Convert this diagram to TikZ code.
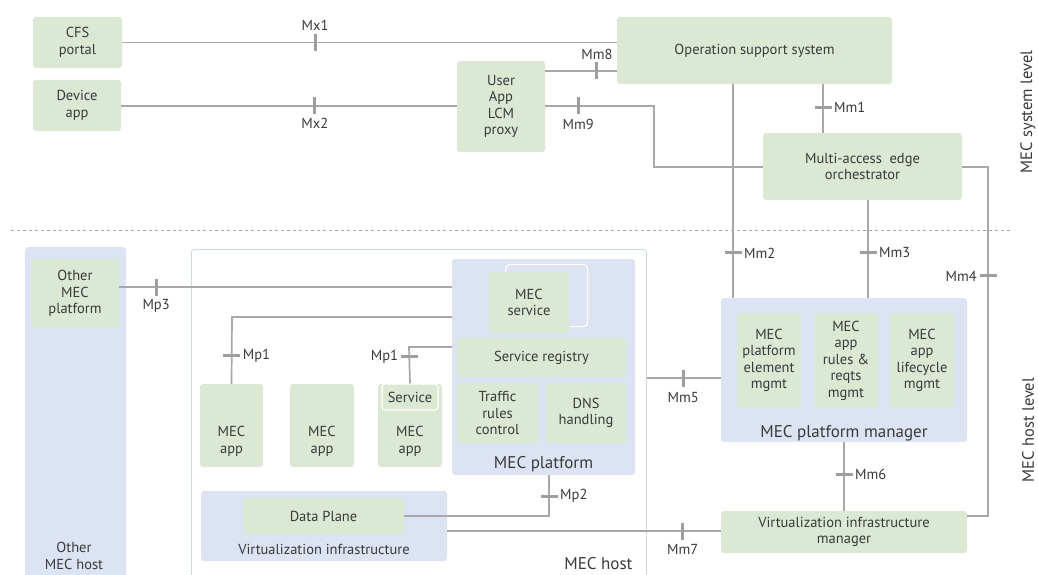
\documentclass[tikz,border=0pt]{standalone}
\usepackage{fontspec}
\setmainfont{PT Sans}
\definecolor{gfill}{HTML}{DAE8D4}
\definecolor{bfill}{HTML}{DCE3F2}
\definecolor{hostline}{HTML}{CAD7EC}
\definecolor{wire}{HTML}{A8A8A8}
\definecolor{tickc}{HTML}{9E9E9E}
\definecolor{ink}{HTML}{3A3A3A}
\begin{document}
\begin{tikzpicture}[x=1pt,y=-1pt,
  every node/.style={text=ink, font=\fontsize{14.5}{16.5}\selectfont},
  gbox/.style={fill=gfill, rounded corners=3pt, inner sep=0pt, align=center},
  bbox/.style={fill=bfill, rounded corners=3pt, inner sep=0pt},
  wireline/.style={draw=wire, line width=1.7pt},
  tickv/.style={fill=tickc, inner sep=0pt, minimum width=3pt, minimum height=17pt},
  tickh/.style={fill=tickc, inner sep=0pt, minimum width=17pt, minimum height=3pt},
  lbl/.style={inner sep=1pt, font=\fontsize{14.5}{16.5}\selectfont},
  big/.style={font=\fontsize{17}{20}\selectfont},
  sz/.style 2 args={minimum width=#1pt, minimum height=#2pt}]
\useasboundingbox (0,0) rectangle (1038,575);

% ---------- MEC system level ----------
\node[gbox, sz={89}{51}] (cfs) at (77.5,42.5) {CFS\\portal};
\node[gbox, sz={88}{51}] (dev) at (77,105.5) {Device\\app};
\node[gbox, sz={88}{91}] (proxy) at (501,106.5) {User\\App\\LCM\\proxy};
\node[gbox, sz={275}{67}] (oss) at (754.5,50.5) {Operation support system};
\node[gbox, sz={199}{67}] (meo) at (862.5,166.5) {Multi-access\ \ edge\\orchestrator};

\node[rotate=90, font=\fontsize{16.5}{18}\selectfont] (syslvl) at (1028,112) {MEC system level};
\node[rotate=90, font=\fontsize{16.5}{18}\selectfont] (hostlvl) at (1028,430) {MEC host level};

\draw[draw=wire, line width=1pt, dash pattern=on 3pt off 3pt] (11,230) coordinate (dl) -- (1013,230) coordinate (dr);

% ---------- MEC host level ----------
\node[bbox, sz={101}{340}, anchor=north west] (omh) at (25,247) {};
\node[anchor=center, align=center] (omhl) at (74,556) {Other\\MEC host};
\node[gbox, sz={88}{69}] (omp) at (75,293.5) {Other\\MEC\\platform};

\node[draw=hostline, line width=0.8pt, fill=white, rounded corners=3pt,
      sz={455}{340}, anchor=north west] (host) at (191,249) {};
\node[big, anchor=base east] (hostl) at (636,569) {MEC host};

\node[bbox, sz={183}{216}] (plat) at (543.5,367) {};
\node[big, anchor=base] (platl) at (543.5,468) {MEC platform};
\node[draw=white, line width=1.2pt, rounded corners=4pt, sz={82}{62}, anchor=north west] (svcbg) at (505,264) {};
\node[gbox, sz={80}{61}] (svc) at (529,302.5) {MEC\\service};
\node[gbox, sz={169}{39}] (reg) at (541.5,357.5) {Service registry};
\node[gbox, sz={81}{60}] (trc) at (497.5,413) {Traffic\\rules\\control};
\node[gbox, sz={80}{60}] (dns) at (586,413) {DNS\\handling};

\node[gbox, sz={63}{83}] (app1) at (231.5,425.5) {};
\node[gbox, sz={64}{83}] (app2) at (322,425.5) {};
\node[gbox, sz={64}{83}] (app3) at (410,425.5) {};
\foreach \a in {app1,app2,app3}
  \node[align=center] at ([yshift=-16pt]\a.center) {MEC\\app};
\node[gbox, draw=white, line width=1.2pt, sz={56}{26}] (serv) at (410,397) {Service};

\node[bbox, sz={246}{70}] (vi) at (324,526) {};
\node[anchor=base] (vil) at (324,554) {Virtualization infrastructure};
\node[gbox, sz={161}{36}] (dp) at (323.5,516) {Data Plane};

\node[bbox, sz={246}{144}] (pm) at (844,370) {};
\node[big, anchor=base] (pml) at (844,437) {MEC platform manager};
\node[gbox, sz={64}{95}] (pe) at (769,360.5) {MEC\\platform\\element\\mgmt};
\node[gbox, sz={64}{95}] (ar) at (846,360.5) {MEC\\app\\rules \&\\reqts\\mgmt};
\node[gbox, sz={64}{95}] (al) at (922,360.5) {MEC\\app\\lifecycle\\mgmt};
\node[gbox, sz={246}{42}] (vim) at (844,532) {Virtualization infrastructure\\manager};

% ---------- bend points ----------
\coordinate (mm9a) at (654,106);
\coordinate (mm9b) at (654,167);
\coordinate (mm4a) at (988,167);
\coordinate (mm4b) at (988,516);
\coordinate (mp1a) at (232,317);
\coordinate (mp1b) at (409,347);
\coordinate (mp2a) at (549,516);

% ---------- interfaces: wires with tick marks ----------
\draw[wireline] (cfs.east) -- node[tickv,pos=0.39,label={[lbl,label distance=1pt]above:Mx1}]{} (cfs.east -| oss.west);
\draw[wireline] (dev.east |- 0,106) -- node[tickv,pos=0.577,label={[lbl,label distance=1pt]below:Mx2}]{} (proxy.west |- 0,106);
\draw[wireline] (proxy.east |- 0,71) -- node[tickv,pos=0.722,label={[lbl,label distance=0pt]above:Mm8}]{} (oss.west |- 0,71);
\draw[wireline] (proxy.east |- mm9a) -- node[tickv,pos=0.303,label={[lbl,label distance=2pt]below:Mm9}]{} (mm9a) -- (mm9b) -- (meo.west |- mm9b);
\draw[wireline] (oss.south -| 823,0) -- node[tickh,pos=0.47,label={[lbl,label distance=0pt]right:Mm1}]{} (meo.north -| 823,0);
\draw[wireline] (oss.south -| 733,0) -- node[tickh,pos=0.79,label={[lbl,label distance=0pt]right:Mm2}]{} (pm.north -| 733,0);
\draw[wireline] (meo.south -| 868,0) -- node[tickh,pos=0.54,label={[lbl,label distance=0pt]right:Mm3}]{} (pm.north -| 868,0);
\draw[wireline] (meo.east |- mm4a) -- (mm4a) -- node[tickh,pos=0.312,label={[lbl,label distance=0pt]left:Mm4}]{} (mm4b) -- (vim.east |- mm4b);
\draw[wireline] (host.east |- 0,378) -- node[tickv,pos=0.493,label={[lbl,label distance=3pt]below:Mm5}]{} (pm.west |- 0,378);
\draw[wireline] (pm.south) -- node[tickh,pos=0.464,label={[lbl,label distance=0pt]right:Mm6}]{} (vim.north);
\draw[wireline] (vi.east |- 0,531) -- node[tickv,pos=0.861,label={[lbl,label distance=2pt]below:Mm7}]{} (vim.west |- 0,531);
\draw[wireline] (omp.east |- 0,287) -- node[tickv,pos=0.111,label={[lbl,label distance=1pt]below:Mp3}]{} (plat.west |- 0,287);
\draw[wireline] (app1.north) -- node[tickh,pos=0.418,label={[lbl,label distance=0pt]right:Mp1}]{} (mp1a) -- (plat.west |- mp1a);
\draw[wireline] (serv.north) -- node[tickh,pos=0.73,label={[lbl,label distance=0pt]left:Mp1}]{} (mp1b) -- (plat.west |- mp1b);
\draw[wireline] (dp.east) -- (mp2a) -- node[tickh,pos=0.49,label={[lbl,label distance=0pt]right:Mp2}]{} (plat.south -| mp2a);
\end{tikzpicture}
\end{document}
